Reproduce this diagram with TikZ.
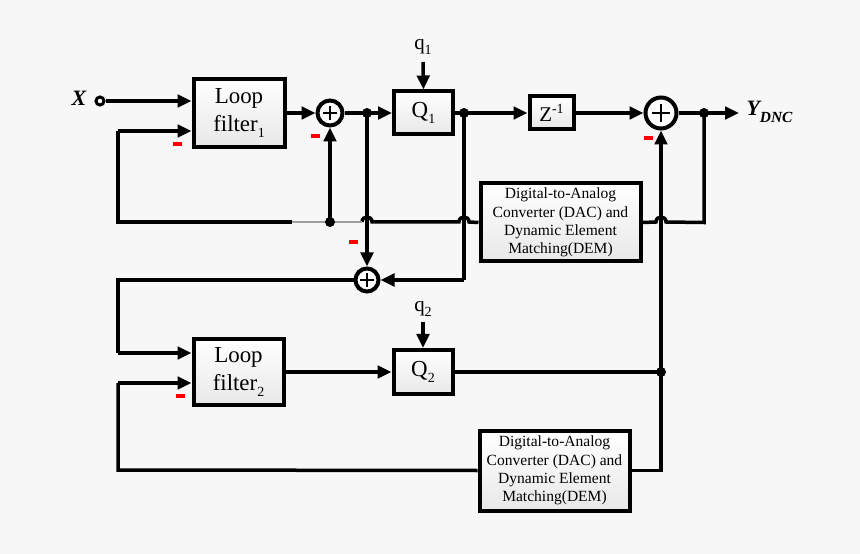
\documentclass[tikz,border=0pt]{standalone}
\usepackage{fontspec}
\setmainfont{Liberation Serif}
\usetikzlibrary{arrows.meta,shadows}
\definecolor{bgc}{RGB}{247,247,247}
\newcommand\lowsub[1]{\raisebox{-0.28em}{\fontsize{14}{14}\selectfont #1}}
\begin{document}
\begin{tikzpicture}[x=1bp,y=-1bp,
  wire/.style={line width=3.5bp},
  arr/.style={wire,-{Triangle[length=14bp,width=12.5bp]}},
  blk/.style={draw,line width=4bp,rectangle,inner sep=0pt,top color=white,bottom color=gray!18,
    drop shadow={shadow xshift=2bp,shadow yshift=-2bp,opacity=0.18,fill=gray}},
  sumc/.style={draw,circle,line width=4bp,fill=white,inner sep=0pt},
  dot/.style={circle,fill=black,inner sep=0pt,minimum size=10bp},
  minus/.style={fill=red,draw=none,minimum width=9bp,minimum height=3.4bp,inner sep=0pt},
  big/.style={font=\fontsize{23}{28}\selectfont,align=center},
  dactext/.style={font=\fontsize{15.6}{18.3}\selectfont,align=center}]
\fill[bgc] (0,0) rectangle (860,554);
\useasboundingbox (0,0) rectangle (860,554);

% blocks
\node[blk,big,minimum width=91bp,minimum height=68bp] (lf1) at (239,113) {Loop\\filter\lowsub{1}};
\node[blk,big,minimum width=59bp,minimum height=43bp] (q1) at (423.5,113) {Q\lowsub{1}};
\node[blk,minimum width=44bp,minimum height=33bp,font=\fontsize{21}{21}\selectfont] (z) at (551.5,113) {Z\raisebox{0.42em}{\fontsize{14}{14}\selectfont -1}};
\node[blk,dactext,minimum width=160bp,minimum height=78bp] (dac1) at (560.5,222.5) {Digital-to-Analog\\Converter (DAC) and\\Dynamic Element\\Matching(DEM)};
\node[blk,big,minimum width=90bp,minimum height=66bp] (lf2) at (238.5,372) {Loop\\filter\lowsub{2}};
\node[blk,big,minimum width=59bp,minimum height=44bp] (q2) at (423,372) {Q\lowsub{2}};
\node[blk,dactext,minimum width=150bp,minimum height=80bp] (dac2) at (554.5,470.5) {Digital-to-Analog\\Converter (DAC) and\\Dynamic Element\\Matching(DEM)};

% summing junctions
\node[sumc,minimum size=25bp] (s1) at (330,113) {};
\node[sumc,minimum size=31bp] (s2) at (661,113) {};
\node[sumc,minimum size=23bp] (s3) at (367,280) {};
\foreach \s/\r in {s1/7,s2/9,s3/7}{
  \draw[line width=1.1bp] ([xshift=-\r bp]\s.center) -- ([xshift=\r bp]\s.center);
  \draw[line width=1.1bp] ([yshift=-\r bp]\s.center) -- ([yshift=\r bp]\s.center);
}

% input terminal and labels
\node[circle,draw,line width=3bp,fill=white,inner sep=0pt,minimum size=8bp] (xin) at (100,101) {};
\node[font=\fontsize{22}{22}\selectfont\bfseries\itshape] (xl) at (79,98) {X};
\node[font=\fontsize{22}{22}\selectfont\bfseries\itshape,anchor=west] (yl) at (743,112) {Y\raisebox{-0.32em}{\fontsize{15.5}{15.5}\selectfont DNC}};
\node[font=\fontsize{21}{21}\selectfont] (q1l) at (423,47) {q\lowsub{1}};
\node[font=\fontsize{21}{21}\selectfont] (q2l) at (423,309) {q\lowsub{2}};

% coordinates
\coordinate (j0) at (330,222);
\coordinate (j1) at (367,113);
\coordinate (j2) at (464,113);
\coordinate (j3) at (704,113);
\coordinate (j4) at (661,372);
\coordinate (yout) at (739,113);
\coordinate (q1in) at (423,62);
\coordinate (q2in) at (423,322);
\coordinate (fa) at (118,222);
\coordinate (fb) at (118,131);
\coordinate (fc) at (118,280);
\coordinate (fd) at (118,353);
\coordinate (fe) at (118,470);
\coordinate (ff) at (118,383);

% forward path
\draw[arr] (xin.east) -- (xin.east -| lf1.west);
\draw[arr] (lf1.east |- s1.west) -- (s1.west);
\draw[arr] (s1.east) -- (q1.west |- s1.east);
\draw[arr] (q1in) -- (q1.north);
\draw[arr] (q1.east |- j2) -- (z.west);
\draw[arr] (z.east) -- (s2.west);
\draw[arr] (s2.east) -- (yout);

% DAC1 feedback to loop filter 1 and to sum 1
\draw[wire] (dac1.west) -- (469,222) .. controls (469,215.3) and (459,215.3) .. (459,222) -- (372,222)
  .. controls (372,215.3) and (362,215.3) .. (362,222);
\draw[line width=1.6bp,gray!75] (362,222) -- (290,222);
\draw[wire] (292,222) -- (fa) -- (fb);
\draw[arr] (fb) -- (fb -| lf1.west);
\draw[arr] (j0) -- (s1.south);

% output to DAC1
\draw[wire] (j3) -- (j3 |- dac1.east) -- (666,222) .. controls (666,215.3) and (656,215.3) .. (656,222) -- (dac1.east);

% second stage input
\draw[arr] (j1) -- (s3.north);
\draw[wire] (j2) -- (j2 |- s3.east);
\draw[arr] (j2 |- s3.east) -- (s3.east);
\draw[wire] (s3.west) -- (fc) -- (fd);
\draw[arr] (fd) -- (fd -| lf2.west);
\draw[arr] (lf2.east |- q2.west) -- (q2.west);
\draw[arr] (q2in) -- (q2.north);
\draw[wire] (q2.east) -- (j4);
\draw[wire] (dac2.east) -- (dac2.east -| j4) -- (j4);
\draw[arr] (j4) -- (s2.south);
\draw[wire] (dac2.west) -- (fe) -- (ff);
\draw[arr] (ff) -- (ff -| lf2.west);

% junction dots
\foreach \j in {j0,j1,j2,j3,j4} \node[dot] at (\j) {};

% minus signs
\node[minus] (m1) at (177,144) {};
\node[minus] (m2) at (315,136) {};
\node[minus] (m3) at (648,138) {};
\node[minus] (m4) at (353,242) {};
\node[minus] (m5) at (180,396) {};
\end{tikzpicture}
\end{document}
